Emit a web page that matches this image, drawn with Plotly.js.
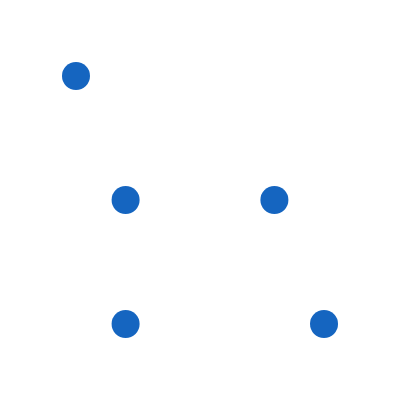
<!DOCTYPE html>
<html>
<head>
<meta charset="utf-8">
<script src="https://cdn.plot.ly/plotly-3.0.1.min.js"></script>
<style>html,body{margin:0;padding:0;background:#fff;}#chart{width:400px;height:400px;}</style>
</head>
<body>
<div id="chart"></div>
<script>
const xValues = [0, 1, 4, 1, 5];
const yValues = [2, 1, 1, 0, 0];

const trace = {
  x: xValues,
  y: yValues,
  type: 'scatter',
  mode: 'markers',
  marker: { size: 28, color: '#1565C0', line: { width: 0 } },
  hoverinfo: 'none'
};

const layout = {
  width: 400,
  height: 400,
  margin: { l: 0, r: 0, t: 0, b: 0, pad: 0 },
  paper_bgcolor: '#ffffff',
  plot_bgcolor: '#ffffff',
  showlegend: false,
  xaxis: { range: [-1.532, 6.532], visible: false, showgrid: false, zeroline: false },
  yaxis: { range: [-0.613, 2.613], visible: false, showgrid: false, zeroline: false }
};

Plotly.newPlot('chart', [trace], layout, { displayModeBar: false, staticPlot: true });
</script>
</body>
</html>
